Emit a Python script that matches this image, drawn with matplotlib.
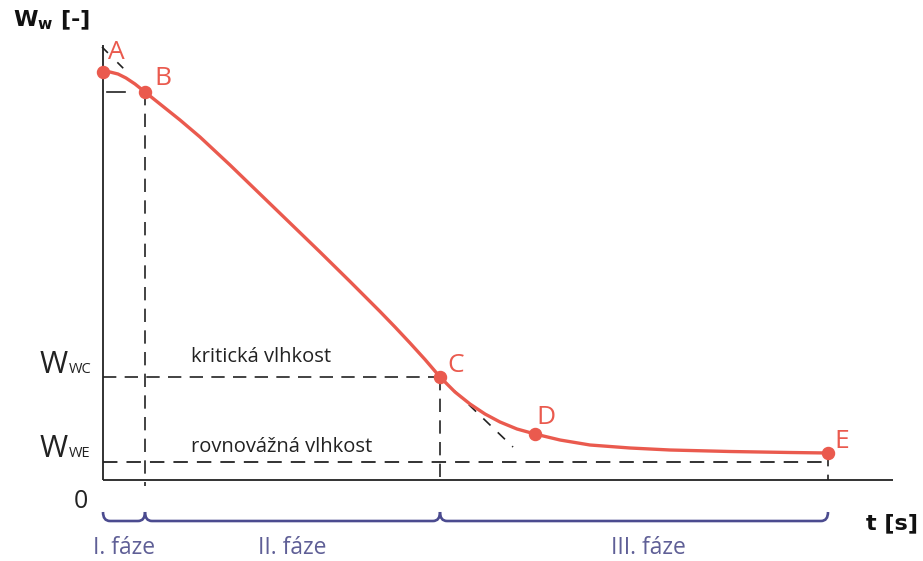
import matplotlib.pyplot as plt
from matplotlib.path import Path
import matplotlib.patches as patches

plt.rcParams['font.family'] = ['Open Sans', 'DejaVu Sans']
plt.rcParams['mathtext.fontset'] = 'custom'
plt.rcParams['mathtext.rm'] = 'Open Sans'
plt.rcParams['mathtext.bf'] = 'DejaVu Sans:bold'

# drying curve (time, moisture), arbitrary units
t_curve = [0, 7, 15, 23, 32, 42, 57, 77, 97, 127, 157, 187, 217, 247, 277, 292, 307, 322,
           337, 352, 367, 382, 397, 414, 432, 457, 487, 527, 567, 627, 687, 725]
w_curve = [408, 408, 406, 402, 396, 388, 376, 360, 343, 315, 286, 257, 228, 198.5, 168.5,
           153, 137, 120.5, 103, 88, 76, 66, 58, 51, 46, 40, 35, 32, 30, 28.5, 27.5, 27]

# marked points A..E
point_names = ['A', 'B', 'C', 'D', 'E']
point_t = [0, 42, 337, 432, 725]
point_w = [408, 388, 103, 46, 27]

# critical and equilibrium moisture
w_crit = 103
w_eq = 18

# phase boundaries and names
phase_edges = [0, 42, 337, 725]
phase_names = ['I. fáze', 'II. fáze', 'III. fáze']

red = '#ea5a4e'
ink = '#222222'
brace_col = '#4b4b8f'
phase_col = '#5f5f96'
dash = (0, (8, 5))

fig = plt.figure(figsize=(9.23, 5.61), dpi=100)
ax = fig.add_axes([0, 0, 1, 1])
ax.set_xlim(-103, 820)
ax.set_ylim(-81, 480)
ax.axis('off')

# axes
ax.plot([0, 790], [0, 0], color=ink, lw=1.3, solid_capstyle='butt')
ax.plot([0, 0], [0, 435], color=ink, lw=1.3, solid_capstyle='butt')

# dashed helper lines
ax.plot([0, point_t[2]], [w_crit, w_crit], color=ink, lw=1.2, ls=dash)
ax.plot([0, point_t[4]], [w_eq, w_eq], color=ink, lw=1.3, ls=dash)
ax.plot([point_t[1], point_t[1]], [point_w[1], -6], color=ink, lw=1.2, ls=dash)
ax.plot([point_t[2], point_t[2]], [point_w[2], 2], color=ink, lw=1.2, ls=dash)
ax.plot([point_t[4], point_t[4]], [point_w[4], 0], color=ink, lw=1.2, ls=dash)
ax.plot([4, 22], [388, 388], color=ink, lw=1.2)
# tangents at A and C
ax.plot([-1, 27], [433, 405], color=ink, lw=1.2, ls=(0, (5, 8)))
ax.plot([point_t[2], 410], [point_w[2], 33], color=ink, lw=1.2, ls=(0, (6, 6)))

# drying curve and points
ax.plot(t_curve, w_curve, color=red, lw=2.4, zorder=3, solid_joinstyle='round')
ax.scatter(point_t, point_w, s=75, color=red, zorder=4)
offs = [(5, 20), (9, 14), (7, 12), (1, 16), (6, 12)]
for name, t, w, (dx, dy) in zip(point_names, point_t, point_w, offs):
    ax.text(t + dx, w + dy, name, color=red, fontsize=19, ha='left', va='center')

# level labels
ax.text(88, w_crit + 20, 'kritická vlhkost', fontsize=14.5, ha='left', va='center', color=ink)
ax.text(88, w_eq + 15, 'rovnovážná vlhkost', fontsize=14.5, ha='left', va='center', color=ink)
for w, sub in [(w_crit + 4, 'WC'), (w_eq + 5, 'WE')]:
    ax.text(-35, w, 'W', fontsize=22, ha='right', va='baseline', color=ink)
    ax.text(-34, w, sub, fontsize=10.5, ha='left', va='baseline', color=ink)
ax.text(-22, -21, '0', fontsize=18, ha='center', va='center', color=ink)

# axis titles
ax.text(-90, 460, r'$\mathbf{W}_\mathbf{w}$ [-]', fontsize=16, fontweight='bold',
        ha='left', va='center', family='DejaVu Sans', color='#111111')
ax.text(763, -43, 't [s]', fontsize=16, fontweight='bold', ha='left', va='center',
        family='DejaVu Sans', color='#111111')

# braces under the phases
label_shift = [0, 0, 14]
for x0, x1, name, sh in zip(phase_edges[:-1], phase_edges[1:], phase_names, label_shift):
    top, bot, r = -32, -41, 7
    verts = [(x0, top), (x0, bot), (x0 + r, bot), (x1 - r, bot), (x1, bot), (x1, top)]
    codes = [Path.MOVETO, Path.CURVE3, Path.CURVE3, Path.LINETO, Path.CURVE3, Path.CURVE3]
    ax.add_patch(patches.PathPatch(Path(verts, codes), facecolor='none',
                                   edgecolor=brace_col, lw=1.9))
    ax.text((x0 + x1) / 2 + sh, -68, name, fontsize=16.5, ha='center', va='center',
            color=phase_col)

fig.savefig('out.png', dpi=100)
